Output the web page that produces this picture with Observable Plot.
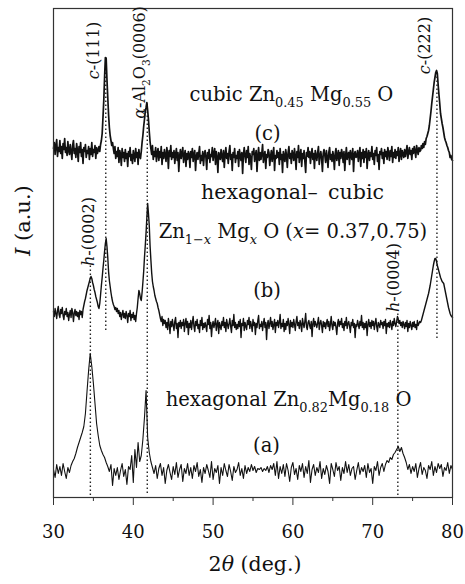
<!DOCTYPE html>
<html><head><meta charset="utf-8">
<script src="https://cdn.jsdelivr.net/npm/d3@7"></script>
<script src="https://cdn.jsdelivr.net/npm/@observablehq/plot@0.6"></script>
<style>html,body{margin:0;padding:0;background:#fff}</style>
</head><body>
<script>
// ---- data (2θ grid starts at 30°) ----
const xStart = 30;
const stepCB = 0.1;   // sampling of curves (c) and (b)
const stepA = 0.2;    // sampling of curve (a)

// (c) cubic Zn0.45Mg0.55O, offset intensity (a.u.)
const curveC = [
349,355,343,352,358,341,350,346,357,344,
351,339,354,348,359,345,350,342,356,347,
343,353,346,338,352,357,344,349,340,354,
347,336,351,345,355,341,348,334,350,346,
353,340,347,344,351,338,349,343,355,341,
348,345,352,339,350,344,347,351,346,353,
357,364,380,397,420,440,439,418,400,383,
370,362,357,352,355,349,344,351,339,346,
341,350,335,347,343,332,349,340,345,336,
348,339,344,331,346,341,350,337,343,334,
347,342,336,349,340,345,333,348,341,339,
346,355,362,371,378,386,390,395,387,378,
366,356,349,343,352,338,346,341,350,336,
344,349,337,346,340,351,333,345,339,348,
342,336,350,344,329,347,341,352,338,345,
340,347,334,343,349,337,345,326,341,348,
339,344,350,335,342,347,331,344,338,346,
343,330,346,340,349,336,343,347,327,341,
345,338,344,351,334,342,337,346,332,343,
347,340,328,345,339,348,335,343,341,350,
337,344,349,333,346,340,325,345,342,338,
348,341,336,347,330,343,350,339,344,334,
346,352,338,343,327,345,340,349,335,342,
339,346,331,348,342,337,345,324,343,350,
341,335,347,340,351,333,344,339,328,346,
343,349,336,342,347,326,341,350,337,345,
338,344,353,335,342,346,329,343,340,348,
345,332,341,347,336,344,350,327,342,339,
347,340,345,333,349,338,343,325,346,341,
336,348,342,330,345,351,339,344,334,347,
343,337,349,341,328,346,340,352,335,342,
348,331,344,339,347,336,325,345,341,350,
340,346,334,343,349,338,344,329,347,342,
337,345,351,333,341,346,339,326,344,348,
342,335,347,340,330,345,350,338,343,336,
346,341,328,344,349,337,342,347,332,345,
339,348,343,335,346,327,341,350,338,344,
345,333,347,342,338,349,326,343,346,340,
341,347,336,344,350,331,345,339,348,335,
346,340,349,329,343,347,337,345,341,351,
338,344,333,347,342,350,336,343,328,346,
343,349,339,345,334,348,341,346,338,350,
344,337,347,341,351,335,345,340,348,339,
346,342,350,336,344,349,338,347,343,340,
348,341,346,352,339,345,350,343,347,338,
349,344,351,346,340,352,347,343,350,346,
347,352,349,354,350,356,353,359,361,364,
367,372,379,386,394,401,408,415,420,425,
427,424,413,403,394,384,379,374,370,365,
360,357,355,352,350,347,345,340,342,338,
337];

// (b) hexagonal–cubic Zn1-xMgxO
const curveB = [
186,181,189,184,179,187,191,183,180,188,
184,190,182,178,186,183,189,181,185,177,
183,187,180,189,185,176,184,188,182,186,
181,185,178,187,183,186,180,188,192,196,
199,203,207,210,213,216,219,221,219,215,
212,208,205,201,198,195,191,189,194,203,
212,220,229,237,246,254,259,251,240,226,
217,211,205,200,196,193,191,188,190,186,
189,184,187,181,185,178,183,187,180,184,
179,186,182,175,184,181,187,177,183,180,
185,178,182,176,184,190,199,207,204,199,
197,205,215,226,240,252,265,280,294,284,
272,252,238,225,216,211,207,202,199,196,
194,190,187,183,179,176,181,172,178,174,
177,170,175,168,179,173,164,176,171,178,
172,167,176,180,169,174,160,175,171,177,
169,175,172,178,166,174,179,170,176,163,
174,170,177,168,175,181,171,166,176,172,
178,169,173,165,177,172,180,168,174,170,
175,171,166,178,173,182,169,175,161,172,
176,170,174,179,167,173,177,164,175,171,
168,176,172,180,170,175,166,178,173,169,
174,179,171,165,177,172,183,170,175,168,
173,169,176,171,178,160,174,172,179,167,
175,171,168,177,173,180,169,176,172,166,
178,172,175,163,174,170,177,182,169,173,
171,176,167,174,179,170,175,158,173,177,
169,174,180,171,176,168,173,178,165,175,
172,177,170,175,183,169,174,171,178,166,
174,168,176,172,179,173,164,177,171,175,
170,178,173,167,176,181,172,175,169,177,
173,166,179,174,170,176,184,171,168,175,
177,172,169,176,161,174,179,171,176,173,
170,175,180,168,174,177,172,165,176,171,
175,169,174,178,171,176,167,173,181,172,
168,176,172,175,170,163,174,178,171,176,
173,179,170,174,167,176,172,180,169,174,
176,171,165,175,172,178,170,174,160,173,
171,177,173,169,176,172,182,170,175,168,
174,170,176,162,173,178,171,175,169,177,
172,176,168,174,179,171,166,175,173,170,
177,173,175,169,176,172,178,164,174,171,
175,170,177,173,168,176,172,179,174,171,
176,181,178,174,177,172,175,170,176,173,
169,175,171,177,166,174,170,176,172,168,
175,171,176,170,173,168,177,172,174,176,
175,177,180,183,186,189,192,195,198,201,
204,208,212,217,222,227,232,236,239,239,
236,232,229,226,223,220,218,216,215,214,
210,206,202,198,194,190,187,184,182,181,
180];

// (a) hexagonal Zn0.82Mg0.18O
const curveA = [
28,20,33,24,31, 22,34,26,19,30, 25,32,36,39,44, 50,55,60,65,71,
84,106,127,144,131, 114,94,74,62,52, 47,43,40,35,31, 26,33,12,29,22,
30,18,27,34,21, 28,13,31,28,42, 15,48,30,55,36, 42,58,80,107,60,
45,36,30,24,32, 19,29,34,22,30, 14,27,33,25,18, 31,23,35,20,28,
33,16,29,24,34, 22,30,19,32,26, 35,21,28,15,30, 24,33,27,20,36,
18,29,25,32,14, 30,22,34,27,21, 33,26,17,31,25, 28,35,22,29,19,
32,24,30,26,33, 27,31,25,29,28, 30,26,29,27,31, 25,32,28,34,22,
36,19,31,24,33, 21,34,27,16,30, 35,23,29,18,32, 26,34,20,31,24,
37,15,28,33,22, 30,25,36,19,29, 23,32,26,14,34, 28,21,35,27,31,
17,30,24,36,25, 33,22,29,31,18, 27,35,23,30,26, 32,20,34,25,29,
14,31,27,36,22, 30,34,26,33,37, 35,40,38,43,45, 48,51,46,50,44,
40,35,28,33,24, 31,26,34,20,29, 35,23,30,27,19, 32,28,36,22,31,
25,34,29,33,21, 30,27,35,24,32, 28];

// axis ticks
const xTicks = [30, 40, 50, 60, 70, 80];
const xMinorTicks = [35, 45, 55, 65, 75];

// reflection markers (dotted guides): 2θ position and intensity extent
const peakX = [34.62, 36.55, 41.75, 73.15, 78.05];
const peakFrom = [2, 167, 4, 2, 159];
const peakTo = [232, 440, 395, 185, 427];

// rich text: [segment, style] with style i = italic, s = subscript, si = italic subscript
const peakLabels = [
  [["c","i"],["-(111)",""]],
  [["α","i"],["-Al",""],["2","s"],["O",""],["3","s"],["(0006)",""]],
  [["c","i"],["-(222)",""]],
  [["h","i"],["-(0002)",""]],
  [["h","i"],["-(0004)",""]]
];
const peakLabelX = [35.1, 40.8, 76.6, 34.45, 72.6];
const peakLabelY = [447, 435, 452, 266, 220];

const sampleLabels = [
  [["cubic Zn",""],["0.45","s"],[" Mg",""],["0.55","s"],[" O",""]],
  [["(c)",""]],
  [["hexagonal–\u2002cubic",""]],
  [["Zn",""],["1−","s"],["x","si"],[" Mg",""],["x","si"],[" O (",""],["x","i"],["= 0.37,0.75)",""]],
  [["(b)",""]],
  [["hexagonal Zn",""],["0.82","s"],["Mg",""],["0.18","s"],[" O",""]],
  [["(a)",""]]
];
const sampleLabelX = [59.82, 56.82, 59.95, 60.0, 56.76, 59.45, 56.69];
const sampleLabelY = [403, 364, 305, 266, 207, 98, 52];

const yTitle = [["I","i"],[" (a.u.)",""]];
const xTitle = [["2",""],["θ","i"],[" (deg.)",""]];

// ---- build ----
const plain = p => p.map(d => d[0]).join("");
const toRows = (arr, step) => arr.map((v, i) => ({x: +(xStart + i * step).toFixed(2), y: v}));
const rowsC = toRows(curveC, stepCB);
const rowsB = toRows(curveB, stepCB);
const rowsA = toRows(curveA, stepA);
const guides = peakX.map((x, i) => ({x, y1: peakFrom[i], y2: peakTo[i]}));
const rotRows = peakLabels.map((p, i) => ({x: peakLabelX[i], y: peakLabelY[i], t: plain(p)}));
const horRows = sampleLabels.map((p, i) => ({x: sampleLabelX[i], y: sampleLabelY[i], t: plain(p),
  fs: i === 2 ? 20.5 : 19.5}));

const ink = "#111";
const chart = Plot.plot({
  width: 465, height: 584,
  marginLeft: 53, marginRight: 13, marginTop: 8, marginBottom: 87,
  style: {fontFamily: "'DejaVu Serif', serif", fontSize: "18px", color: ink, background: "#fff", overflow: "visible"},
  x: {domain: [30, 80], label: null},
  y: {domain: [0, 489], axis: null},
  marks: [
    Plot.ruleX(guides, {x: "x", y1: "y1", y2: "y2", stroke: "#222", strokeWidth: 1.4, strokeDasharray: "1.4,2.6"}),
    Plot.line(rowsC, {x: "x", y: "y", stroke: ink, strokeWidth: 1.7}),
    Plot.line(rowsB, {x: "x", y: "y", stroke: ink, strokeWidth: 1.4}),
    Plot.line(rowsA, {x: "x", y: "y", stroke: ink, strokeWidth: 1.1}),
    Plot.frame({stroke: "#333", strokeWidth: 1.2}),
    Plot.axisX({ticks: xTicks, tickSize: 8, tickPadding: 20, fontSize: 18, tickFormat: d => String(d), label: null, stroke: "#333"}),
    Plot.axisX({ticks: xMinorTicks, tickSize: 4, tickFormat: () => "", label: null, stroke: "#333"}),
    Plot.text(rotRows, {x: "x", y: "y", text: "t", rotate: -90, fontSize: 16, fill: ink}),
    Plot.text(horRows, {x: "x", y: "y", text: "t", fontSize: "fs", fill: ink}),
    Plot.text([plain(yTitle)], {frameAnchor: "left", dx: -30, dy: 3, rotate: -90, fontSize: 21, fill: ink}),
    Plot.text([plain(xTitle)], {frameAnchor: "bottom", dx: 2, dy: 73, fontSize: 20.5, fill: ink})
  ]
});
document.body.appendChild(chart);

// turn plain labels into rich text (italics, subscripts)
const specs = new Map();
[...peakLabels, ...sampleLabels, yTitle, xTitle].forEach(p => specs.set(plain(p), p));
const NS = "http://www.w3.org/2000/svg";
chart.querySelectorAll("text").forEach(el => {
  const parts = specs.get(el.textContent);
  if (!parts) return;
  const g = el.closest("g[font-size]");
  const size = parseFloat(el.getAttribute("font-size") || (g && g.getAttribute("font-size")) || 18);
  el.textContent = "";
  el.style.whiteSpace = "pre";
  let shift = 0;
  for (const [t, st] of parts) {
    const ts = document.createElementNS(NS, "tspan");
    ts.textContent = t;
    const sub = st.includes("s");
    if (st.includes("i")) ts.setAttribute("font-style", "italic");
    if (sub) ts.setAttribute("font-size", (size * 0.66).toFixed(1));
    const target = sub ? size * 0.3 : 0;
    if (target !== shift) ts.setAttribute("dy", (target - shift).toFixed(1));
    shift = target;
    el.appendChild(ts);
  }
});
</script>
</body></html>
